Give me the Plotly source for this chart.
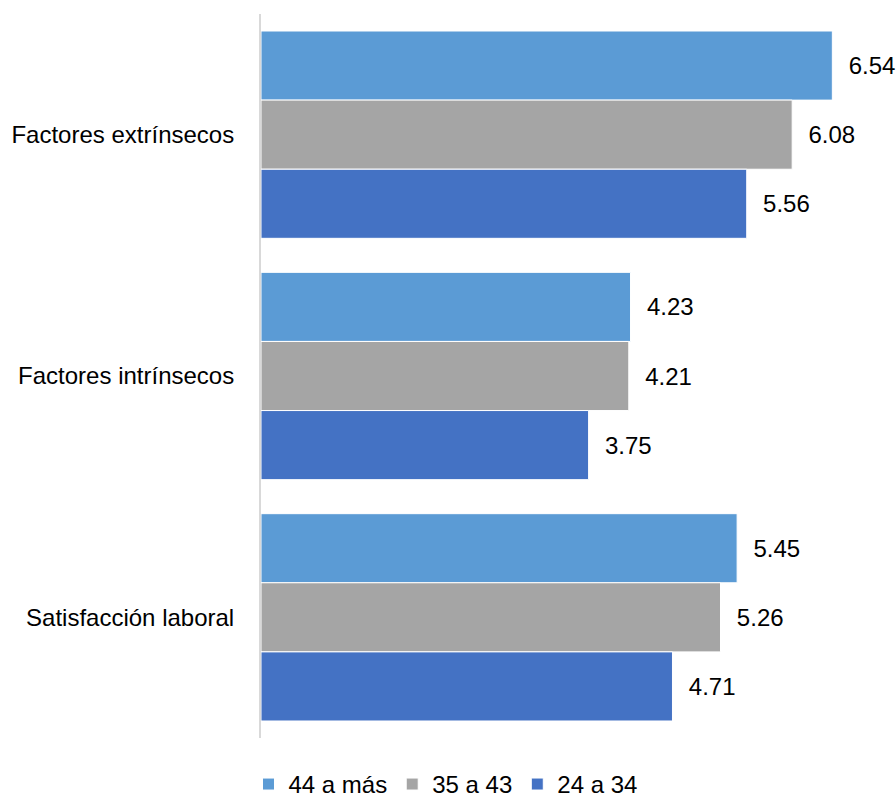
import plotly.graph_objects as go

categories = ["Factores extrínsecos", "Factores intrínsecos", "Satisfacción laboral"]
series_names = ["44 a más", "35 a 43", "24 a 34"]
values_44_mas = [6.54, 4.23, 5.45]
values_35_43 = [6.08, 4.21, 5.26]
values_24_34 = [5.56, 3.75, 4.71]
colors = ["#5B9BD5", "#A5A5A5", "#4472C4"]

FONT = "Liberation Sans, Arial, sans-serif"

fig = go.Figure()
for name, vals, col in zip(series_names, [values_44_mas, values_35_43, values_24_34], colors):
    fig.add_trace(go.Bar(
        y=categories, x=vals, name=name, orientation="h",
        marker=dict(color=col, line=dict(color="white", width=1)),
        text=[f"{v:.2f}" for v in vals],
        texttemplate="\u00a0\u00a0%{text}",
        textposition="outside",
        textfont=dict(family=FONT, size=24, color="#000000"),
        cliponaxis=False,
    ))

fig.update_layout(
    width=896, height=798,
    margin=dict(l=261, r=6, t=14, b=60),
    paper_bgcolor="white", plot_bgcolor="white",
    barmode="group", bargap=0.141, bargroupgap=0,
    font=dict(family=FONT, size=24, color="#000000"),
    xaxis=dict(range=[0, 7.2], visible=False, showgrid=False, zeroline=False),
    yaxis=dict(autorange="reversed", showline=True, linecolor="#D9D9D9", linewidth=2,
               ticks="", ticklabelstandoff=20, showgrid=False,
               tickfont=dict(family=FONT, size=24, color="#000000")),
    showlegend=True,
    legend=dict(orientation="h", xref="container", yref="container", x=0.4972, y=0.017,
                xanchor="center", yanchor="middle",
                font=dict(family=FONT, size=24, color="#000000"),
                itemwidth=30),
)

fig.write_html(
    "out.html",
    config={"displayModeBar": False},
    post_script="document.body.style.margin='0';document.body.style.overflow='hidden';",
)
